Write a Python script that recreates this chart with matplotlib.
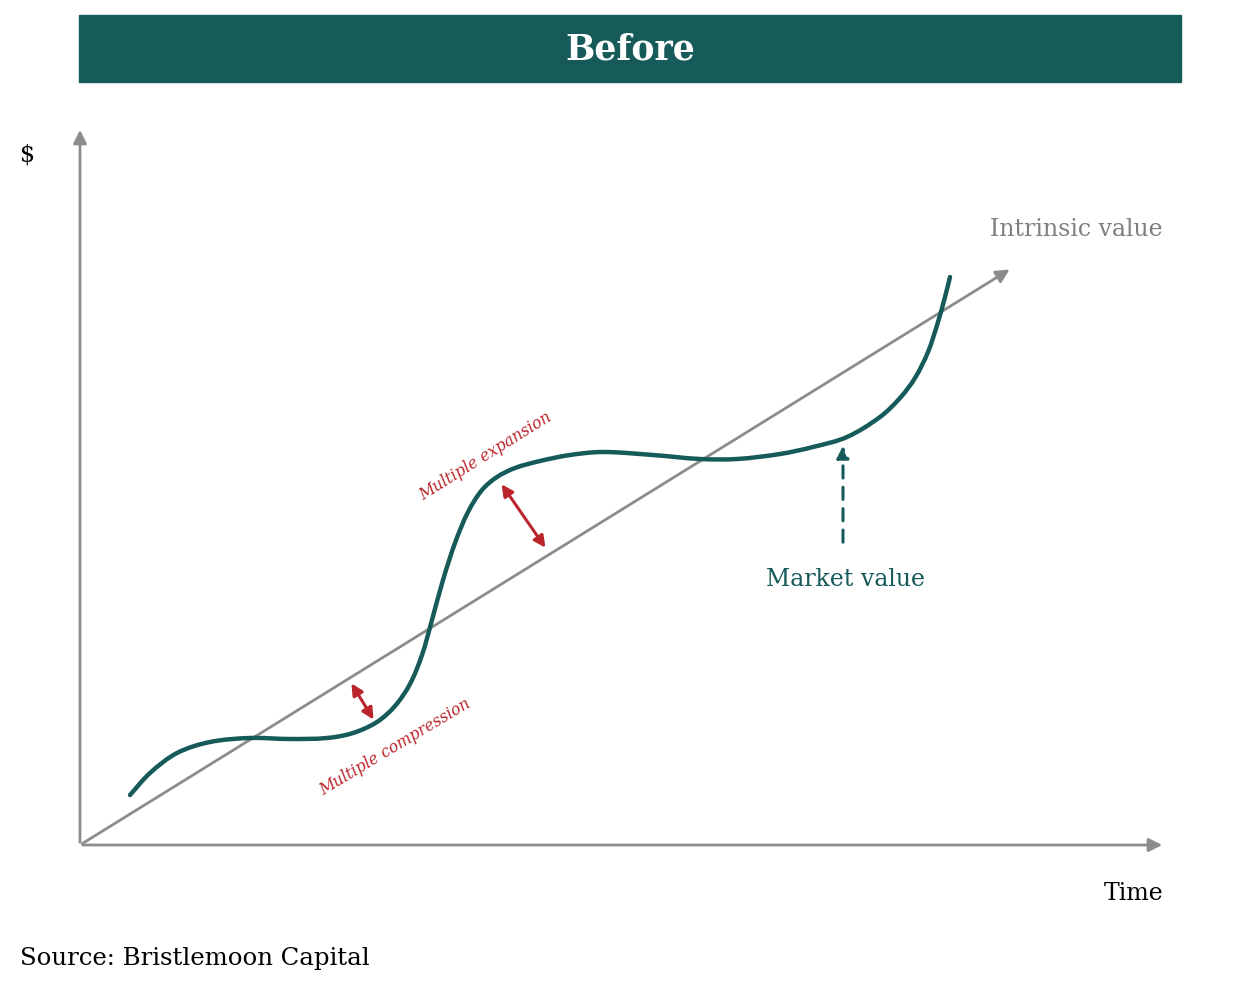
import numpy as np
import matplotlib.pyplot as plt
from matplotlib.patches import Rectangle, FancyArrowPatch, PathPatch
from matplotlib.path import Path

# chart coordinates: x = time, y = $ (origin at the axes corner, pixel-like units)
market_t = [50, 70, 97, 130, 170, 210, 247, 273, 297, 315, 330, 342, 352, 363, 375, 388,
            402, 417, 435, 460, 490, 523, 573, 620, 657, 700, 733, 767, 800, 820, 835,
            848, 858, 865, 870]
market_v = [50, 72, 92, 103, 107, 106, 107, 112, 123, 139, 161, 190, 225, 265, 302, 333,
            355, 368, 377, 384, 390, 393, 390, 386, 386, 391, 398, 408, 428, 447, 467,
            493, 523, 548, 568]

intrinsic_t = [0, 932]
intrinsic_v = [0, 577]

expansion_arrow = [(420, 363), (467, 295)]
compression_arrow = [(270, 164), (295, 123)]
market_arrow = [(763, 300), (763, 402)]

teal = "#175a5a"
grey = "#8c8c8c"
red = "#bb262c"
serif = ["DejaVu Serif"]


def smooth_path(xs, ys):
    # length-aware cardinal spline through the read points, as cubic Bezier segments
    pts = np.column_stack([xs, ys]).astype(float)
    seg = np.linalg.norm(np.diff(pts, axis=0), axis=1)
    n = len(pts)
    tang = np.zeros_like(pts)
    for i in range(n):
        if i == 0:
            tang[i] = (pts[1] - pts[0]) / seg[0]
        elif i == n - 1:
            tang[i] = (pts[-1] - pts[-2]) / seg[-1]
        else:
            tang[i] = (pts[i + 1] - pts[i - 1]) / (seg[i - 1] + seg[i])
    verts = [pts[0]]
    codes = [Path.MOVETO]
    for i in range(n - 1):
        d = seg[i]
        verts += [pts[i] + tang[i] * d / 3, pts[i + 1] - tang[i + 1] * d / 3, pts[i + 1]]
        codes += [Path.CURVE4] * 3
    return Path(verts, codes)


fig = plt.figure(figsize=(12.48, 9.84), dpi=100)
ax = fig.add_axes([0, 0, 1, 1])
ax.set_xlim(-80, 1168)
ax.set_ylim(-139, 845)
ax.axis("off")

# title bar
ax.add_patch(Rectangle((-1, 763), 1102, 67, color=teal, zorder=1))
ax.text(550, 796, "Before", color="white", fontsize=25, fontweight="bold",
        family=serif, ha="center", va="center")

# axes arrows
arrow_kw = dict(arrowstyle="-|>", color=grey, lw=2, mutation_scale=20)
ax.annotate("", xy=(0, 718), xytext=(0, 0), arrowprops=arrow_kw)
ax.annotate("", xy=(1085, 0), xytext=(0, 0), arrowprops=arrow_kw)
ax.text(-52, 690, "$", fontsize=17, family=serif, ha="center", va="center")
ax.text(1083, -48, "Time", fontsize=17, family=serif, ha="right", va="center")

# intrinsic value line
ax.annotate("", xy=(intrinsic_t[1], intrinsic_v[1]), xytext=(intrinsic_t[0], intrinsic_v[0]),
            arrowprops=arrow_kw)
ax.text(1083, 616, "Intrinsic value", color="#7f7f7f", fontsize=17, family=serif,
        ha="right", va="center")

# market value curve
ax.add_patch(PathPatch(smooth_path(market_t, market_v), facecolor="none",
                       edgecolor=teal, lw=3.2, capstyle="round", zorder=3))

ax.add_patch(FancyArrowPatch(market_arrow[0], market_arrow[1], arrowstyle="-|>",
                             linestyle=(0, (4, 3)), color=teal, lw=2.2, mutation_scale=18))
ax.text(765, 265, "Market value", color=teal, fontsize=17, family=serif,
        ha="center", va="center")

# multiple expansion / compression
for a, b in [expansion_arrow, compression_arrow]:
    ax.add_patch(FancyArrowPatch(a, b, arrowstyle="<|-|>", color=red, lw=2.2,
                                 mutation_scale=17, zorder=4))
ax.text(405, 389, "Multiple expansion", color=red, fontsize=11.3, style="italic",
        family=serif, rotation=32, ha="center", va="center")
ax.text(315, 98, "Multiple compression", color=red, fontsize=11.3, style="italic",
        family=serif, rotation=31, ha="center", va="center")

ax.text(-60, -113, "Source: Bristlemoon Capital", fontsize=17.6, family=serif,
        ha="left", va="center")

fig.savefig("out.png", dpi=100)
